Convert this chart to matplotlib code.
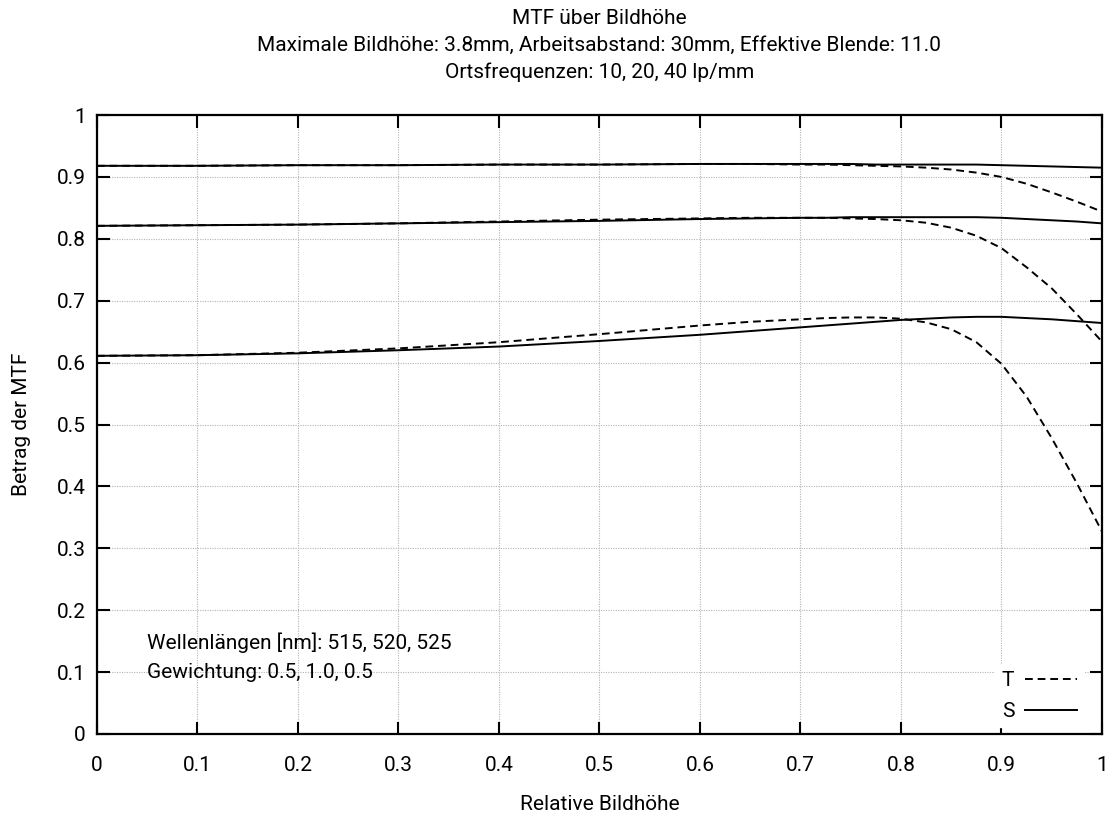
import matplotlib
matplotlib.use("Agg")
import matplotlib.pyplot as plt

plt.rcParams['font.family'] = ['Roboto', 'DejaVu Sans']

# relative image height
x = [0, 0.1, 0.2, 0.3, 0.4, 0.5, 0.6, 0.65, 0.7, 0.725, 0.75, 0.775, 0.8,
     0.825, 0.85, 0.875, 0.9, 0.925, 0.95, 0.975, 1.0]

# 10 lp/mm
s10 = [0.918, 0.918, 0.919, 0.919, 0.920, 0.920, 0.921, 0.921, 0.921, 0.921, 0.921,
       0.920, 0.920, 0.920, 0.920, 0.920, 0.919, 0.918, 0.917, 0.916, 0.915]
t10 = [0.918, 0.918, 0.919, 0.919, 0.920, 0.920, 0.921, 0.921, 0.920, 0.920, 0.919,
       0.918, 0.917, 0.915, 0.912, 0.907, 0.900, 0.889, 0.875, 0.860, 0.844]
# 20 lp/mm
s20 = [0.821, 0.822, 0.823, 0.825, 0.827, 0.829, 0.832, 0.833, 0.834, 0.834, 0.835,
       0.835, 0.835, 0.835, 0.835, 0.835, 0.834, 0.832, 0.830, 0.828, 0.825]
t20 = [0.821, 0.822, 0.823, 0.825, 0.828, 0.831, 0.833, 0.834, 0.834, 0.834, 0.833,
       0.832, 0.830, 0.826, 0.818, 0.805, 0.785, 0.754, 0.720, 0.678, 0.634]
# 40 lp/mm
s40 = [0.611, 0.612, 0.615, 0.620, 0.626, 0.635, 0.645, 0.651, 0.657, 0.660, 0.663,
       0.666, 0.669, 0.671, 0.673, 0.674, 0.674, 0.672, 0.670, 0.667, 0.664]
t40 = [0.611, 0.612, 0.616, 0.623, 0.633, 0.646, 0.660, 0.666, 0.670, 0.672, 0.673,
       0.673, 0.671, 0.665, 0.654, 0.633, 0.598, 0.545, 0.478, 0.405, 0.327]

ticks = [0, 0.1, 0.2, 0.3, 0.4, 0.5, 0.6, 0.7, 0.8, 0.9, 1]
tick_labels = ["0", "0.1", "0.2", "0.3", "0.4", "0.5", "0.6", "0.7", "0.8", "0.9", "1"]

title_lines = ["MTF über Bildhöhe",
               "Maximale Bildhöhe: 3.8mm, Arbeitsabstand: 30mm, Effektive Blende: 11.0",
               "Ortsfrequenzen: 10, 20, 40 lp/mm"]
info_lines = ["Wellenlängen [nm]: 515, 520, 525", "Gewichtung: 0.5, 1.0, 0.5"]

FS = 15

fig = plt.figure(figsize=(11.11, 8.16), dpi=100)
ax = fig.add_axes([0.0873, 0.1005, 0.9046, 0.7585])

dash = (0, (4, 2.5))
for s, t in [(s10, t10), (s20, t20), (s40, t40)]:
    ax.plot(x, t, color="black", lw=1.4, linestyle=dash, label="T")
    ax.plot(x, s, color="black", lw=1.4, label="S")

ax.set_xlim(0, 1)
ax.set_ylim(0, 1)
ax.set_xticks(ticks)
ax.set_xticklabels(tick_labels)
ax.set_yticks(ticks)
ax.set_yticklabels(tick_labels)
ax.tick_params(direction="in", length=9, width=1.5, top=True, right=True,
               labelsize=FS, colors="black")
ax.tick_params(axis="x", pad=16)
ax.tick_params(axis="y", pad=8)
for sp in ax.spines.values():
    sp.set_linewidth(1.6)
ax.grid(True, color="#b4b4b4", linestyle=(0, (1, 1.2)), linewidth=0.8)
ax.set_axisbelow(True)

fig.text(0.5395, 1 - 805 / 816, "Relative Bildhöhe", fontsize=FS, ha="center", va="center")
fig.text(0.0198, 1 - 424 / 816, "Betrag der MTF", fontsize=FS, ha="center", va="center",
         rotation=90)
for i, line in enumerate(title_lines):
    fig.text(0.5395, 1 - (18 + 27 * i) / 816, line, fontsize=FS, ha="center", va="center")

ax.text(0.05, 0.147, info_lines[0], fontsize=FS, va="center")
ax.text(0.05, 0.100, info_lines[1], fontsize=FS, va="center")

h, l = ax.get_legend_handles_labels()
leg = ax.legend(h[:2], l[:2], loc="lower right", bbox_to_anchor=(0.981, 0.011),
                markerfirst=False, frameon=True, fontsize=FS, handlelength=2.5,
                handletextpad=0.5, borderaxespad=0, borderpad=0.3, labelspacing=0.55,
                fancybox=False)
leg.get_frame().set_edgecolor("white")
leg.get_frame().set_facecolor("white")
leg.get_frame().set_alpha(1)

fig.savefig("out.png", dpi=100)
